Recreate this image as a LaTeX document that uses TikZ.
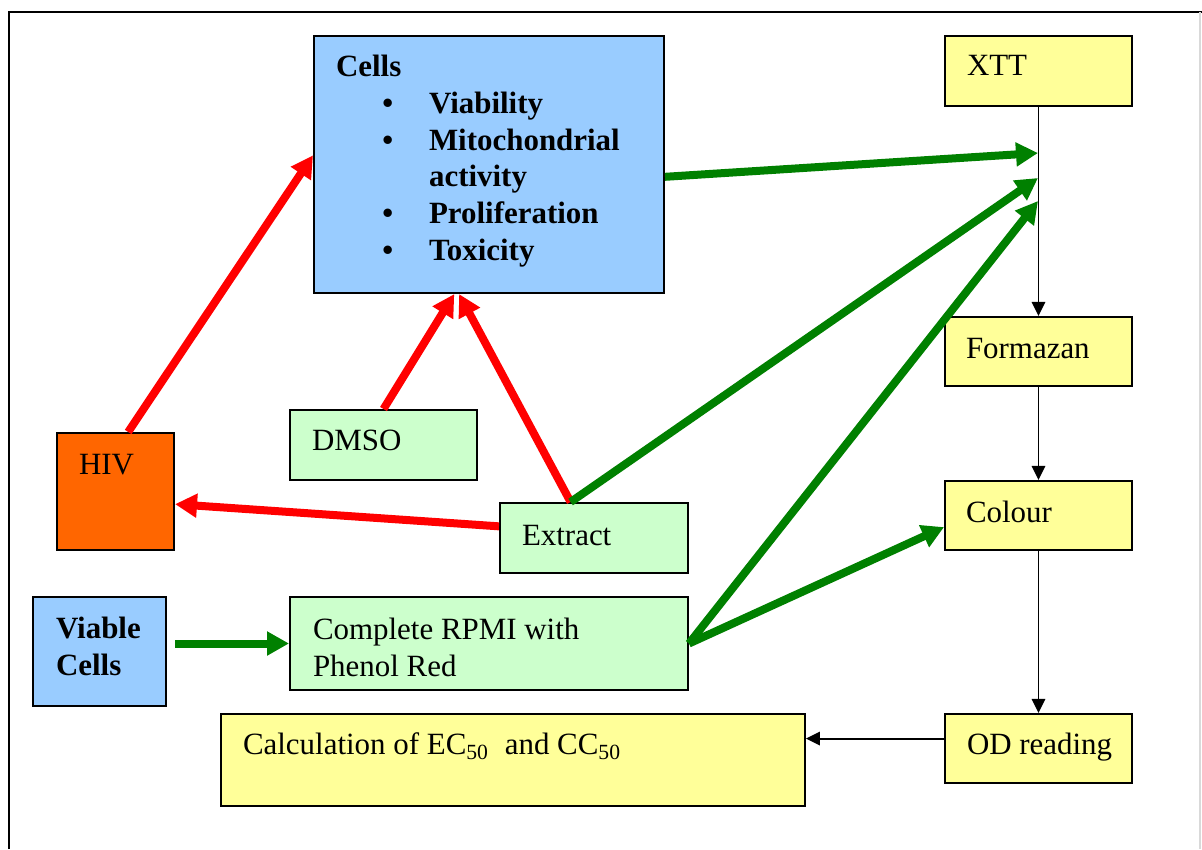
\documentclass[tikz,border=0pt]{standalone}
\usepackage{fontspec}
\setmainfont{Liberation Serif}
\usetikzlibrary{arrows.meta}

\definecolor{cellblue}{HTML}{99CCFF}
\definecolor{paleyellow}{HTML}{FFFF99}
\definecolor{palegreen}{HTML}{CCFFCC}
\definecolor{hivorange}{HTML}{FF6600}
\definecolor{arrowgreen}{HTML}{008000}
\definecolor{arrowred}{HTML}{FF0000}

\tikzset{every picture/.style={line width=0.75pt}}
\tikzset{
	box/.style={draw=black, line width=0.75pt, rectangle, inner sep=0pt},
	txt/.style={anchor=north west, inner sep=0pt, align=left, font=\fontsize{11.6}{13.8}\selectfont},
	redarrow/.style={draw=arrowred, line width=3pt, -{Triangle[length=8.25pt,width=8.6pt]}},
	greenarrow/.style={draw=arrowgreen, line width=3pt, -{Triangle[length=8.25pt,width=8.6pt]}},
	flow/.style={draw=black, line width=0.7pt, -{Triangle[length=5.2pt,width=5pt]}}
}
\newcommand\cellbullet{\makebox[34.9pt][l]{\hspace{17.4pt}\textbullet}}

\begin{document}
\begin{tikzpicture}[x=0.375pt,y=0.375pt,yscale=-1,xscale=1]
	\useasboundingbox (0,0) rectangle (1202,849);
	
	%Shape: Frame
	\draw [line width=0.75pt]  (9,849) -- (9,12) -- (1202,12) ;
	\draw [color=black!15 ,line width=0.75pt]  (1200,12) -- (1200,849) ;
	
	%Shape: Rectangle
	\node (cells) [box, fill=cellblue, minimum width=131.25pt, minimum height=96.4pt] at (489,164.5) {};
	%Shape: Rectangle
	\node (xtt) [box, fill=paleyellow, minimum width=70.1pt, minimum height=26.25pt] at (1038.5,71) {};
	%Shape: Rectangle
	\node (formazan) [box, fill=paleyellow, minimum width=70.1pt, minimum height=26pt] at (1038.5,351.5) {};
	%Shape: Rectangle
	\node (colour) [box, fill=paleyellow, minimum width=70.1pt, minimum height=26pt] at (1038.5,515.5) {};
	%Shape: Rectangle
	\node (od) [box, fill=paleyellow, minimum width=70.1pt, minimum height=26pt] at (1038.5,748.5) {};
	%Shape: Rectangle
	\node (calc) [box, fill=paleyellow, minimum width=219pt, minimum height=34.5pt] at (513,760) {};
	%Shape: Rectangle
	\node (hiv) [box, fill=hivorange, minimum width=43.9pt, minimum height=43.9pt] at (115.5,491.5) {};
	%Shape: Rectangle
	\node (dmso) [box, fill=palegreen, minimum width=70.1pt, minimum height=26.25pt] at (383.5,445) {};
	%Shape: Rectangle
	\node (extract) [box, fill=palegreen, minimum width=70.5pt, minimum height=26.25pt] at (594,538) {};
	%Shape: Rectangle
	\node (viable) [box, fill=cellblue, minimum width=49.9pt, minimum height=40.9pt] at (99.5,651.5) {};
	%Shape: Rectangle
	\node (rpmi) [box, fill=palegreen, minimum width=149.25pt, minimum height=34.9pt] at (489,643.5) {};
	
	%Points on the XTT line
	\coordinate (t1) at (1038,153);
	\coordinate (t2) at (1038,178);
	\coordinate (t3) at (1038,201);
	
	%Straight Lines
	\draw [flow]  (xtt.south) -- (formazan.north) ;
	\draw [flow]  (formazan.south) -- (colour.north) ;
	\draw [flow]  (colour.south) -- (od.north) ;
	\draw [flow]  (od.174) -- (od.174 -| calc.east) ;
	
	%Straight Lines
	\draw [redarrow]  (hiv.78) -- (cells.177) ;
	\draw [redarrow]  (dmso.north) -- (cells.255) ;
	\draw [redarrow]  (extract.123) -- (cells.257) ;
	\draw [redarrow]  (extract.173) -- (hiv.348) ;
	
	%Straight Lines
	\draw [greenarrow]  (cells.-4) -- (t1) ;
	\draw [greenarrow]  (extract.123) -- (t2) ;
	\draw [greenarrow]  (rpmi.east) -- (t3) ;
	\draw [greenarrow]  (rpmi.east) -- (colour.187) ;
	\draw [greenarrow, shorten <=3pt]  (viable.east |- rpmi.west) -- (rpmi.west) ;
	
	% Text Node
	\node (cellstxt) [txt] at (335,54) {\bfseries Cells\\
		\bfseries\cellbullet Viability\\
		\bfseries\cellbullet Mitochondrial\\
		\bfseries\hspace*{34.9pt}activity\\
		\bfseries\cellbullet Proliferation\\
		\bfseries\cellbullet Toxicity};
	% Text Node
	\node (xtttxt) [txt] at (966,54) {XTT};
	% Text Node
	\node (formazantxt) [txt] at (965,337) {Formazan};
	% Text Node
	\node (colourtxt) [txt] at (965,500) {Colour};
	% Text Node
	\node (odtxt) [txt] at (966,732) {OD reading};
	% Text Node
	\node (calctxt) [txt] at (242,732) {Calculation of EC\textsubscript{50}\ \ and CC\textsubscript{50}};
	% Text Node
	\node (hivtxt) [txt] at (78,453) {HIV};
	% Text Node
	\node (dmsotxt) [txt] at (311,429) {DMSO};
	% Text Node
	\node (extracttxt) [txt] at (521,524) {Extract};
	% Text Node
	\node (rpmitxt) [txt] at (312,617) {Complete RPMI with\\Phenol Red};
	% Text Node
	\node (viabletxt) [txt] at (55,616) {\bfseries Viable\\\bfseries Cells};
	
\end{tikzpicture}
\end{document}
